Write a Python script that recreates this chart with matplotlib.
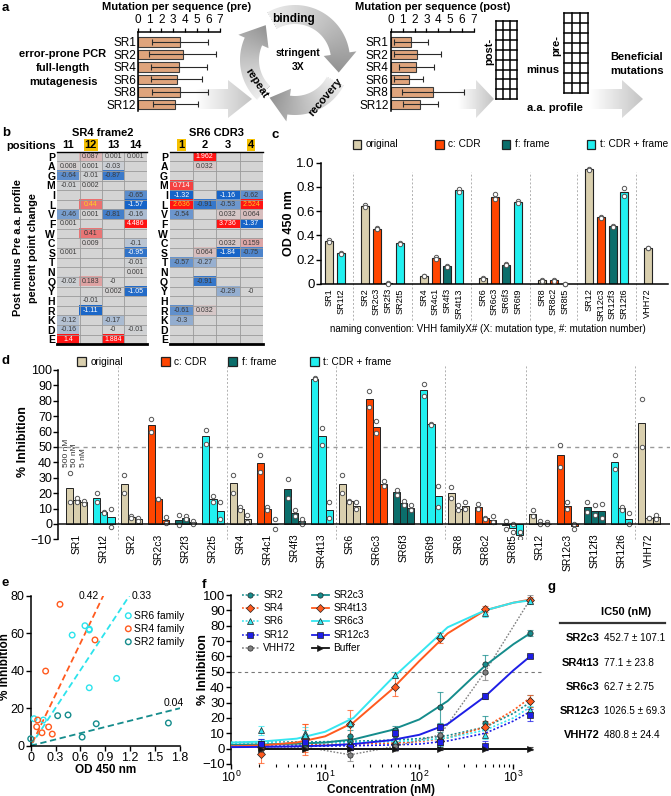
import re
import numpy as np
import matplotlib
matplotlib.use('Agg')
import matplotlib.pyplot as plt
from matplotlib.patches import Rectangle, Polygon
from matplotlib.colors import LinearSegmentedColormap, to_rgba

plt.rcParams['font.family'] = ['Liberation Sans', 'DejaVu Sans']
plt.rcParams['axes.linewidth'] = 1.1
plt.rcParams['xtick.direction'] = 'out'
plt.rcParams['ytick.direction'] = 'out'

# ======================= DATA =======================
# panel a
a_clones = ['SR1', 'SR2', 'SR4', 'SR6', 'SR8', 'SR12']
a_pre_mean = [3.6, 3.8, 3.5, 3.3, 3.6, 3.2]
a_pre_sd = [2.4, 2.85, 2.4, 2.2, 2.4, 1.95]
a_post_mean = [1.7, 2.25, 2.15, 1.5, 3.55, 2.5]
a_post_sd = [1.4, 1.95, 1.45, 1.2, 2.6, 1.5]

# panel b
aa_rows = list('PAGMILVFWCSTNQYHRKDE')
b_sr4_positions = ['11', '12', '13', '14']
b_sr4_values = [
    ['', '0.087', '0.001', '0.001'],
    ['0.008', '0.001', '-0.03', ''],
    ['-0.64', '-0.01', '-0.87', ''],
    ['-0.01', '0.002', '', ''],
    ['', '', '', '-0.65'],
    ['', '0.44', '', '-1.57'],
    ['-0.46', '0.001', '-0.81', '-0.16'],
    ['0.001', '', '', '4.486'],
    ['', '0.41', '', ''],
    ['', '0.009', '', '-0.1'],
    ['0.001', '', '', '-0.95'],
    ['', '', '', '-0.01'],
    ['', '', '', '0.001'],
    ['-0.02', '0.183', '-0', ''],
    ['', '', '0.002', '-1.05'],
    ['', '-0.01', '', ''],
    ['', '-1.11', '', ''],
    ['-0.12', '', '-0.17', ''],
    ['-0.16', '', '-0', '-0.01'],
    ['1.4', '', '1.884', ''],
]
b_sr4_highlight = ['12']
b_sr4_key_cells = [('L', '12')]

b_sr6_positions = ['1', '2', '3', '4']
b_sr6_values = [
    ['', '1.962', '', ''],
    ['', '0.032', '', ''],
    ['', '', '', ''],
    ['0.714', '', '', ''],
    ['-1.32', '', '-1.16', '-0.62'],
    ['2.636', '-0.91', '-0.53', '2.524'],
    ['-0.54', '', '0.032', '0.064'],
    ['', '', '3.736', '-1.37'],
    ['', '', '', ''],
    ['', '', '0.032', '0.159'],
    ['', '0.064', '-1.84', '-0.75'],
    ['-0.57', '-0.27', '', ''],
    ['', '', '', ''],
    ['', '-0.91', '', ''],
    ['', '', '-0.29', '-0'],
    ['', '', '', ''],
    ['-0.61', '0.032', '', ''],
    ['-0.3', '', '', ''],
    ['', '', '', ''],
    ['', '', '', ''],
]
b_sr6_highlight = ['1', '4']
b_sr6_key_cells = [('L', '1'), ('L', '4')]

# panels c, d
vhh_groups = [['SR1', 'SR1t2'], ['SR2', 'SR2c3', 'SR2f3', 'SR2t5'],
              ['SR4', 'SR4c1', 'SR4f3', 'SR4t13'], ['SR6', 'SR6c3', 'SR6f3', 'SR6t9'],
              ['SR8', 'SR8c2', 'SR8t5'], ['SR12', 'SR12c3', 'SR12f3', 'SR12t6'], ['VHH72']]
type_names = {'o': 'original', 'c': 'c: CDR', 'f': 'f: frame', 't': 't: CDR + frame'}

c_od_mean = [0.354, 0.253, 0.643, 0.456, 0.005, 0.335, 0.067, 0.214, 0.148, 0.772, 0.047,
             0.720, 0.159, 0.676, 0.030, 0.030, 0.0, 0.945, 0.550, 0.475, 0.758, 0.297]
c_od_rep1 = [0.362, 0.256, 0.650, 0.462, 0.008, 0.338, 0.070, 0.220, 0.152, 0.782, 0.050,
             0.745, 0.162, 0.682, 0.032, 0.034, 0.0, 0.952, 0.556, 0.480, 0.792, 0.300]
c_od_rep2 = [0.346, 0.250, 0.636, 0.450, 0.002, 0.332, 0.064, 0.208, 0.144, 0.762, 0.044,
             0.698, 0.156, 0.670, 0.028, 0.026, 0.0, 0.938, 0.544, 0.470, 0.725, 0.294]

d_concs = ['500 nM', '50 nM', '5 nM']
d_inh_500 = [23.6, 17.0, 26.0, 64.0, 2.6, 57.0, 26.4, 39.8, 22.9, 94.2, 25.8,
             81.2, 20.6, 86.8, 20.3, 11.3, -0.9, 6.7, 44.6, 11.3, 40.3, 65.8]
d_inh_50 = [15.4, 8.0, 4.8, 16.5, 3.7, 16.2, 10.0, 9.7, 6.9, 57.1, 14.7,
            62.8, 13.9, 64.7, 10.0, 3.7, -2.8, 0.9, 11.9, 8.7, 10.4, 3.9]
d_inh_5 = [14.1, 4.3, 3.0, 2.8, 1.1, 8.4, 3.5, 0.0, 2.0, 9.1, 11.7,
           26.2, 10.2, 18.0, 11.5, 2.8, -7.4, 0.0, -1.1, 8.2, 3.5, 4.8]
d_rep_500 = [(33, 14), (20, 14), (32, 20), (68, 60), (6, -1), (61, 52), (32, 20), (45, 34),
             (29, 17), (95, 94), (32, 20), (86.6, 75.8), (22, 19), (91, 83), (24, 17), (13, 10),
             (2, -3), (9, 5), (51, 37), (14, 8), (45, 35.7), (81.4, 50)]
d_rep_50 = [(17, 14), (8, 7), (5, 4), (16.5, 16.5), (5, 3), (18, 14), (11, 9), (11, 9),
            (9, 5), (62, 51), (15, 14), (67, 58.9), (15, 12), (65, 64), (12, 9), (4, 3),
            (0, -5), (2, 0), (14, 10), (12, 6), (11, 9), (4, 4)]
d_rep_5 = [(15, 13), (10, -2), (4, 2), (4.5, 0.5), (2, 0), (14, 3), (6, 1), (3, -3),
           (3, 0), (14, 4), (14, 10), (28, 24.7), (12, 9), (24.7, 11.3), (14, 10), (5, 1),
           (-5, -9), (1, 0), (0, -3), (13, 4), (7, 0), (6, 3)]

# panel e
e_families = ['SR6 family', 'SR4 family', 'SR2 family']
e_od = [[0.04, 0.152, 0.50, 0.654, 0.706, 0.706, 0.706, 1.036],
        [0.353, 0.18, 0.775, 0.084, 0.072, 0.136, 0.216, 0.26],
        [0.0, 0.325, 0.45, 0.62, 0.79, 1.66]]
e_inh = [[14.4, 13.7, 59.0, 64.0, 62.2, 61.7, 30.9, 35.9],
         [75.4, 39.8, 56.4, 13.7, 10.1, 6.9, 10.0, 6.2],
         [3.7, 16.0, 16.4, 4.6, 11.7, 12.1]]
e_fit_x = [[0.0, 1.19], [0.02, 0.875], [0.0, 1.8]]
e_fit_y = [[0.0, 80.0], [1.5, 80.0], [0.0, 20.0]]
e_fit_r2 = ['0.33', '0.42', '0.04']

# panel f
f_conc = [2.06, 6.17, 18.5, 55.6, 166.7, 500, 1500]
f_series = ['SR2', 'SR4', 'SR6', 'SR12', 'VHH72', 'SR2c3', 'SR4t13', 'SR6c3', 'SR12c3', 'Buffer']
f_mean = {
    'SR2': [3, 4, 5, 9, 8, 17, 31],
    'SR4': [-3.5, 7, 2, 3, 5, 14, 31],
    'SR6': [12, 10, 3, 4, 4, 9, 25],
    'SR12': [3, 3, 1, 1, 4, 2, 22],
    'VHH72': [0, 1, -4, 1.5, 9, 50, 97],
    'SR2c3': [2, 3, 8, 12, 27, 55, 75],
    'SR4t13': [1, 6, 16, 40, 72, 91, 97],
    'SR6c3': [3, 9, 17, 48, 74, 88, 96],
    'SR12c3': [3, 4, 1, 10, 14, 34, 60],
    'Buffer': [0, 0, 0, 0, 0, 0, 0],
}
f_err = {
    'SR2': [3, 3, 3, 4, 3, 4, 4],
    'SR4': [6, 9, 3, 3, 3, 4, 4],
    'SR6': [3, 4, 2, 2, 2, 3, 3],
    'SR12': [3, 3, 2, 2, 4, 3, 4],
    'VHH72': [2, 2, 4, 3, 3, 5, 3],
    'SR2c3': [2, 3, 4, 3, 10, 6, 2],
    'SR4t13': [2, 10, 9, 6, 3, 2, 2],
    'SR6c3': [2, 3, 3, 2, 2, 2, 2],
    'SR12c3': [2, 3, 2, 3, 2, 2, 1],
    'Buffer': [1, 1, 1, 1, 1, 1, 1],
}
f_curve_x = [1, 2, 5, 10, 20, 50, 100, 200, 500, 1000, 1500]
f_curve_y = {
    'SR2': [4.0, 4.1, 4.3, 4.5, 4.8, 5.5, 6.5, 8.5, 14, 23, 30],
    'SR4': [2.5, 2.6, 2.7, 2.8, 3.0, 3.6, 4.6, 7.0, 14, 25, 33],
    'SR6': [3.7, 3.7, 3.8, 3.9, 4.1, 4.6, 5.3, 7.0, 12, 20, 27],
    'SR12': [1.5, 1.5, 1.6, 1.7, 1.9, 2.4, 3.0, 5.0, 10, 18, 24],
    'SR2c3': [2.5, 2.7, 3.2, 4.0, 6.0, 12, 19, 31, 54, 68, 75],
    'SR4t13': [1.5, 2.0, 4.0, 8.0, 17, 38, 57, 75, 90, 95, 97],
    'SR6c3': [4.0, 4.5, 6.5, 11, 20, 45, 62, 79, 90, 95, 96.5],
    'SR12c3': [1.0, 1.1, 1.5, 2.0, 3.0, 5.5, 9.0, 16, 34, 51, 60],
}

# panel g
g_names = ['SR2c3', 'SR4t13', 'SR6c3', 'SR12c3', 'VHH72']
g_ic50 = [452.7, 77.1, 62.7, 1026.5, 480.8]
g_ic50_sd = [107.1, 23.8, 2.75, 69.3, 24.4]

# ======================= STYLE =======================
W, H = 671, 796
A_BAR = '#dfa47c'
TYPE_COL = {'o': '#d9cfae', 'c': '#ff4500', 'f': '#0b6e6b', 't': '#22f0f0'}
EMPTY = '#d4d4d4'
GRIDC = '#9a9a9a'
F_COL = {'SR2': '#158c8c', 'SR4': '#ff5a1e', 'SR6': '#35e6f0', 'SR12': '#1e1ee6',
         'VHH72': '#808080', 'Buffer': '#111111'}
F_MARK = {'SR2': 'o', 'SR4': 'D', 'SR6': '^', 'SR12': 's', 'VHH72': 'o', 'Buffer': '>'}

fig = plt.figure(figsize=(W / 100, H / 100), dpi=100)


def ax_px(x0, y0, x1, y1):
    return fig.add_axes([x0 / W, 1 - y1 / H, (x1 - x0) / W, (y1 - y0) / H])


def base_of(name):
    m = re.match(r'^(SR\d+)', name)
    return m.group(1) if m else name


def vtype(name):
    m = re.match(r'^SR\d+([cft])\d+$', name)
    return m.group(1) if m else 'o'


def blend(c1, c2, t):
    a, b = to_rgba(c1), to_rgba(c2)
    return tuple((1 - t) * u + t * v for u, v in zip(a, b))


# ---------------- background overlay ----------------
bg = ax_px(0, 0, W, H)
bg.set_axis_off()

arrow_cmap = LinearSegmentedColormap.from_list('ar', ['#ffffff', '#c4c4c4'])
for (x0, hx, tip) in [(196, 228, 252), (458, 476, 494), (590, 622, 643)]:
    pts = [(x0, 89), (hx, 89), (hx, 80), (tip, 99), (hx, 118), (hx, 109), (x0, 109)]
    poly = Polygon(pts, closed=True, facecolor='none', edgecolor='none')
    bg.add_patch(poly)
    grad = np.linspace(0, 1, 64)[None, :]
    im = bg.imshow(grad, extent=(x0, tip, 118, 80), cmap=arrow_cmap, aspect='auto',
                   interpolation='bilinear', vmin=0, vmax=1)
    im.set_clip_path(poly)

cx, cy, r_in, r_out = 295, 60, 36, 55
ring_cmap = LinearSegmentedColormap.from_list('ring', ['#ededed', '#c2c2c2', '#929292'])


def seg_poly(a0, a1, ah, ext=7):
    th = np.radians(np.linspace(a0, a1, 50))
    outer = [(cx + r_out * np.cos(t), cy - r_out * np.sin(t)) for t in th]
    inner = [(cx + r_in * np.cos(t), cy - r_in * np.sin(t)) for t in th[::-1]]
    tb, tt, rm = np.radians(a1), np.radians(ah), (r_in + r_out) / 2
    head = [(cx + (r_out + ext) * np.cos(tb), cy - (r_out + ext) * np.sin(tb)),
            (cx + rm * np.cos(tt), cy - rm * np.sin(tt)),
            (cx + (r_in - ext) * np.cos(tb), cy - (r_in - ext) * np.sin(tb))]
    return outer + head + inner


gx = np.arange(cx - 70, cx + 70) + 0.5
gy = np.arange(cy - 70, cy + 70) + 0.5
GX, GY = np.meshgrid(gx, gy)
ANG = np.degrees(np.arctan2(-(GY - cy), GX - cx))
for (a0, a1, ah) in [(120, 8, -16), (-28, -98, -124), (226, 156, 130)]:
    pts = seg_poly(a0, a1, ah)
    poly = Polygon(pts, closed=True, facecolor='none', edgecolor='none')
    bg.add_patch(poly)
    d = (a0 - ANG) % 360
    t = np.clip(d / (a0 - ah), 0, 1)
    im = bg.imshow(t, extent=(cx - 70, cx + 70, cy + 70, cy - 70), cmap=ring_cmap,
                   aspect='auto', interpolation='bilinear', vmin=0, vmax=1, origin='upper')
    im.set_clip_path(poly)
bg.set_xlim(0, W)
bg.set_ylim(H, 0)

# ======================= PANEL A =======================


def mutation_bars(x0, x1, means, sds):
    ax = ax_px(x0, 32, x1, 110.5)
    y = np.arange(len(a_clones))
    ax.barh(y, means, height=0.76, color=A_BAR, edgecolor='#3c3c3c', linewidth=0.8, zorder=2)
    ax.errorbar(means, y, xerr=sds, fmt='none', ecolor='#2a2a2a', elinewidth=0.8,
                capsize=2.2, capthick=0.8, zorder=3)
    ax.set_xlim(0, 7)
    ax.set_ylim(5.5, -0.8)
    ax.xaxis.tick_top()
    ax.set_xticks(range(8))
    ax.set_yticks(y, a_clones)
    ax.spines[['right', 'bottom']].set_visible(False)
    ax.tick_params(axis='x', length=3, width=0.9, pad=1, labelsize=8.5)
    ax.tick_params(axis='y', length=0, pad=1.5, labelsize=8.5)
    ax.patch.set_alpha(0)
    return ax


mutation_bars(138, 220, a_pre_mean, a_pre_sd)
mutation_bars(390.7, 474, a_post_mean, a_post_sd)

# ======================= PANEL B =======================


def cell_rgba(s):
    if s == '':
        return to_rgba(EMPTY)
    v = float(s)
    if v >= 0:
        return blend(EMPTY, '#ff1414', min(v / 1.0, 1) ** 0.8)
    return blend(EMPTY, '#1664c8', min(-v / 1.15, 1) ** 0.8)


def aa_heatmap(x0, x1, positions, values, highlight, key_cells):
    ax = ax_px(x0, 151.7, x1, 344.3)
    nr, nc = len(aa_rows), len(positions)
    img = np.array([[cell_rgba(values[i][j]) for j in range(nc)] for i in range(nr)])
    ax.imshow(img, aspect='auto', interpolation='nearest', extent=(-0.5, nc - 0.5, nr - 0.5, -0.5))
    for k in range(1, nr):
        ax.axhline(k - 0.5, color=GRIDC, lw=0.6)
    for k in range(1, nc):
        ax.axvline(k - 0.5, color=GRIDC, lw=0.6)
    keys = {(aa_rows.index(r), positions.index(p)) for r, p in key_cells}
    for i in range(nr):
        for j in range(nc):
            s = values[i][j]
            if s == '':
                continue
            v = float(s)
            if (i, j) in keys:
                col = '#ffd21f'
            elif v >= 0.7 or v <= -0.93:
                col = 'white'
            else:
                col = '#3a3a3a'
            ax.text(j, i, s, ha='center', va='center', fontsize=5, color=col)
    ax.set_xlim(-0.5, nc - 0.5)
    ax.set_ylim(nr - 0.5, -0.5)
    ax.xaxis.tick_top()
    ax.set_xticks(range(nc), positions)
    ax.set_yticks(range(nr), aa_rows)
    ax.tick_params(length=0)
    ax.tick_params(axis='x', pad=1.2)
    ax.tick_params(axis='y', pad=1.5)
    for lab in ax.get_xticklabels():
        lab.set_fontweight('bold')
        lab.set_fontsize(8)
        if lab.get_text() in highlight:
            lab.set_bbox(dict(facecolor='#f5c000', edgecolor='none', pad=0.8))
    for lab in ax.get_yticklabels():
        lab.set_fontweight('bold')
        lab.set_fontsize(7.5)
    ax.spines[['left', 'right']].set_visible(False)
    ax.spines['top'].set_linewidth(1.0)
    ax.spines['bottom'].set_linewidth(2.0)
    return ax


aa_heatmap(57.3, 146.7, b_sr4_positions, b_sr4_values, b_sr4_highlight, b_sr4_key_cells)
aa_heatmap(170, 262.7, b_sr6_positions, b_sr6_values, b_sr6_highlight, b_sr6_key_cells)

# ======================= PANEL C =======================
names = [n for g in vhh_groups for n in g]
types = [vtype(n) for n in names]
cols = [TYPE_COL[t] for t in types]

c_slots, c_seps, s = [], [], 0
for gi, g in enumerate(vhh_groups):
    if gi > 0:
        c_seps.append(s)
        s += 1
    for n in g:
        c_slots.append(s)
        s += 1

axc = ax_px(320.7, 162.7, 668, 284)
axc.patch.set_alpha(0)
for sp in c_seps:
    axc.plot([sp, sp], [-0.3, 0.92], ls=(0, (2, 2)), color='#b0b0b0', lw=0.7, clip_on=False, zorder=1)
axc.bar(c_slots, c_od_mean, width=0.68, color=cols, edgecolor='#222222', linewidth=0.8, zorder=2)
axc.scatter(c_slots + c_slots, c_od_rep1 + c_od_rep2, s=10, facecolor='white', edgecolor='#555555',
            linewidth=0.7, zorder=3, clip_on=False)
axc.set_xlim(-0.73, 28.7)
axc.set_ylim(0, 1.0)
axc.set_yticks([0, 0.2, 0.4, 0.6, 0.8, 1.0], ['0', '0.2', '0.4', '0.6', '0.8', '1.0'])
axc.set_xticks(c_slots, names, rotation=90)
axc.tick_params(axis='x', length=0, pad=3, labelsize=6.6)
axc.tick_params(axis='y', length=3.5, width=1, pad=1, labelsize=9.5)
axc.spines[['top', 'right']].set_visible(False)

# ======================= PANEL D =======================
d_x = np.arange(len(names))
axd = ax_px(58.3, 370, 670, 539.3)
axd.patch.set_alpha(0)
bounds = np.cumsum([len(g) for g in vhh_groups])[:-1] - 0.5
for sp in bounds:
    axd.plot([sp, sp], [-10, 103], ls=(0, (2, 2)), color='#b0b0b0', lw=0.7, clip_on=False, zorder=1)
axd.axhline(50, color='#9a9a9a', ls=(0, (3, 3)), lw=1.0, zorder=1)
bw = 0.26
for k, (vals, reps) in enumerate([(d_inh_500, d_rep_500), (d_inh_50, d_rep_50), (d_inh_5, d_rep_5)]):
    xs = d_x + (k - 1) * bw
    axd.bar(xs, vals, width=bw, color=cols, edgecolor='#222222', linewidth=0.7, zorder=2)
    rx = np.concatenate([xs, xs])
    ry = [r[0] for r in reps] + [r[1] for r in reps]
    axd.scatter(rx, ry, s=10, facecolor='white', edgecolor='#555555', linewidth=0.7, zorder=3)
axd.axhline(0, color='#111111', lw=1.1, zorder=4)
axd.set_xlim(-0.675, 21.77)
axd.set_ylim(-10, 100)
axd.set_yticks(range(-10, 101, 10))
axd.set_xticks(d_x, names, rotation=90)
axd.tick_params(axis='x', length=0, pad=-4, labelsize=7.5)
axd.tick_params(axis='y', length=3.5, width=1, pad=1, labelsize=9)
axd.spines[['top', 'right', 'bottom']].set_visible(False)
i0 = names.index('SR1')
for k, lab in enumerate(d_concs):
    axd.text(i0 + (k - 1) * 0.31 - 0.07, 37, lab, rotation=90, ha='center', va='bottom', fontsize=6.0,
             color='#333333')

# ======================= PANEL E =======================
axe = ax_px(30.7, 595.7, 180, 745.7)
axe.patch.set_alpha(0)
e_cols = ['#2ce3ec', '#ff5a1e', '#158c8c']
for k in range(3):
    axe.plot(e_fit_x[k], e_fit_y[k], ls=(0, (3.5, 2)), color=e_cols[k], lw=1.3, zorder=2)
    axe.scatter(e_od[k], e_inh[k], s=16, facecolor='none', edgecolor=e_cols[k], linewidth=1.0,
                zorder=3, clip_on=False)
axe.set_xlim(0, 1.8)
axe.set_ylim(0, 80)
axe.set_xticks([0, 0.3, 0.6, 0.9, 1.2, 1.5, 1.8], ['0', '0.3', '0.6', '0.9', '1.2', '1.5', '1.8'])
axe.set_yticks([0, 20, 40, 60, 80])
axe.tick_params(length=3.5, width=1, pad=1, labelsize=9)
axe.spines[['top', 'right']].set_visible(False)

# ======================= PANEL F =======================
axf = ax_px(231, 595, 541.7, 764)
axf.patch.set_alpha(0)
axf.set_xscale('log')
axf.axhline(50, color='#777777', ls=(0, (3, 3)), lw=0.8, zorder=1)
for name in f_series:
    fam = base_of(name)
    col = F_COL[fam]
    variant = name != fam
    axf.errorbar(f_conc, f_mean[name], yerr=f_err[name], fmt='none', ecolor=col, elinewidth=0.8,
                 capsize=2, capthick=0.8, alpha=0.75, zorder=2)
    if name in f_curve_y:
        axf.plot(f_curve_x, f_curve_y[name], color=col, lw=1.4 if variant else 1.2,
                 ls='-' if variant else (0, (1.2, 1.2)), zorder=3)
    elif name == 'VHH72':
        axf.plot(f_conc, f_mean[name], color=col, lw=1.0, ls=(0, (1.2, 1.2)), zorder=3)
    else:
        axf.plot(f_conc, f_mean[name], color=col, lw=1.4, zorder=3)
    axf.plot(f_conc, f_mean[name], ls='none', marker=F_MARK[fam], ms=3.8, mfc=col, mec='#222222',
             mew=0.5, zorder=4)
axf.set_xlim(1, 10 ** 3.3)
axf.set_ylim(-10, 100)
axf.set_yticks(range(-10, 101, 10))
axf.tick_params(axis='y', length=3.5, width=1, pad=1, labelsize=9.5)
axf.tick_params(axis='x', which='major', length=3.5, width=1, pad=1, labelsize=9)
axf.tick_params(axis='x', which='minor', length=2, width=0.8)
axf.spines[['top', 'right', 'bottom']].set_visible(False)

# ======================= FOREGROUND TEXT =======================
fg = ax_px(0, 0, W, H)
fg.set_axis_off()
fg.set_xlim(0, W)
fg.set_ylim(H, 0)
B = dict(fontweight='bold')

for lab, x, y in [('a', 2, 8), ('b', 2, 133), ('c', 272, 135), ('d', 2, 361), ('e', 2, 583),
                  ('f', 202, 585), ('g', 547, 587)]:
    fg.text(x, y, lab, fontsize=9.5, ha='left', va='center', **B)

# panel a texts
fg.text(177, 7, 'Mutation per sequence (pre)', fontsize=8, ha='center', va='center', **B)
fg.text(433, 7, 'Mutation per sequence (post)', fontsize=8, ha='center', va='center', **B)
for yy, t in zip([54, 68, 82], ['error-prone PCR', 'full-length', 'mutagenesis']):
    fg.text(63, yy, t, fontsize=8, ha='center', va='center', **B)
fg.text(294, 19, 'binding', fontsize=8.5, ha='center', va='center', **B)
fg.text(298, 53, 'stringent', fontsize=7.5, ha='center', va='center', **B)
fg.text(298, 67, '3X', fontsize=7.5, ha='center', va='center', **B)
fg.text(257, 83, 'repeat', fontsize=8, ha='center', va='center', rotation=-57, **B)
fg.text(325, 97, 'recovery', fontsize=8, ha='center', va='center', rotation=50, **B)
for (gx0, gx1, gy0, gy1) in [(495.7, 516.7, 20.7, 99), (564.3, 588.3, 13.3, 92.7)]:
    for k in range(9):
        yy = gy0 + k * (gy1 - gy0) / 8
        fg.plot([gx0, gx1], [yy, yy], color='black', lw=1.1)
    for k in range(4):
        xx = gx0 + k * (gx1 - gx0) / 3
        fg.plot([xx, xx], [gy0, gy1], color='black', lw=1.1)
fg.text(489, 51, 'post-', fontsize=8, rotation=90, ha='center', va='center', **B)
fg.text(556, 46, 'pre-', fontsize=8, rotation=90, ha='center', va='center', **B)
fg.text(543, 70, 'minus', fontsize=8, ha='center', va='center', **B)
fg.text(555, 108, 'a.a. profile', fontsize=8, ha='center', va='center', **B)
fg.text(637, 57, 'Beneficial', fontsize=8, ha='center', va='center', **B)
fg.text(637, 71, 'mutations', fontsize=8, ha='center', va='center', **B)

# panel b texts
fg.text(103, 132.5, 'SR4 frame2', fontsize=8, ha='center', va='center', **B)
fg.text(216, 132.5, 'SR6 CDR3', fontsize=8, ha='center', va='center', **B)
fg.text(56, 146, 'positions', fontsize=8, ha='right', va='center', **B)
fg.text(18, 248, 'Post minus Pre a.a. profile', fontsize=7.8, rotation=90, ha='center', va='center', **B)
fg.text(33, 248, 'percent point change', fontsize=7.8, rotation=90, ha='center', va='center', **B)

# panel c/d legends
for (lx, ly), t in zip([(356.7, 144.3), (439.5, 144.3), (506, 144.3), (590.7, 144.3)], ['o', 'c', 'f', 't']):
    fg.add_patch(Rectangle((lx - 4.2, ly - 4.2), 8.4, 8.4, facecolor=TYPE_COL[t], edgecolor='#222222', lw=0.9))
    fg.text(lx + 9, ly, type_names[t], fontsize=7.3, ha='left', va='center')
for (lx, ly), t in zip([(81.7, 361.8), (165, 361.8), (232.7, 361.8), (314.2, 361.8)], ['o', 'c', 'f', 't']):
    fg.add_patch(Rectangle((lx - 4.5, ly - 4.5), 9, 9, facecolor=TYPE_COL[t], edgecolor='#222222', lw=0.9))
    fg.text(lx + 9, ly, type_names[t], fontsize=7.3, ha='left', va='center')
fg.text(289, 223, 'OD 450 nm', fontsize=9, rotation=90, ha='center', va='center', **B)
fg.text(488, 329, 'naming convention: VHH familyX# (X: mutation type, #: mutation number)', fontsize=7,
        ha='center', va='center')
fg.text(23, 442, '% Inhibition', fontsize=9, rotation=90, ha='center', va='center', **B)

# panel e texts
fg.text(5.5, 667, '% Inhibition', fontsize=8.5, rotation=90, ha='center', va='center', **B)
fg.text(106, 770, 'OD 450 nm', fontsize=8.5, ha='center', va='center', **B)
for (lx, ly), k in zip([(128.3, 615.7), (128.3, 628.8), (128.3, 641.8)], range(3)):
    fg.scatter([lx], [ly], s=16, facecolor='none', edgecolor=e_cols[k], linewidth=1.0)
    fg.text(lx + 5.5, ly, e_families[k], fontsize=7.5, ha='left', va='center')
fg.text(99, 596, e_fit_r2[1], fontsize=7.5, ha='right', va='center')
fg.text(132, 596, e_fit_r2[0], fontsize=7.5, ha='left', va='center')
fg.text(163.5, 703, e_fit_r2[2], fontsize=7.5, ha='left', va='center')

# panel f texts
fg.text(203, 670, '% Inhibition', fontsize=9, rotation=90, ha='center', va='center', **B)
fg.text(381, 790.5, 'Concentration (nM)', fontsize=8.5, ha='center', va='center', **B)
leg_rows = [595, 608.2, 621.4, 634.6, 647.8]
for idx, name in enumerate(f_series):
    col_i, row_i = divmod(idx, 5)
    x0 = 241.7 if col_i == 0 else 311.7
    yy = leg_rows[row_i]
    fam = base_of(name)
    col = F_COL[fam]
    solid = (name != fam) or name == 'Buffer'
    fg.plot([x0, x0 + 17], [yy, yy], color=col, lw=1.3 if solid else 1.1,
            ls='-' if solid else (0, (1.2, 1.2)))
    fg.plot([x0 + 8.5], [yy], marker=F_MARK[fam], ms=3.8, mfc=col, mec='#222222', mew=0.5)
    fg.text(x0 + 21.5, yy, name, fontsize=7.3, ha='left', va='center')

# panel g
fg.text(626, 612, 'IC50 (nM)', fontsize=8, ha='center', va='center', **B)
fg.plot([560, 665], [623.3, 623.3], color='#333333', lw=1.6)
for k, (nm, m, sd) in enumerate(zip(g_names, g_ic50, g_ic50_sd)):
    yy = 638.3 + k * 24.2
    fg.text(599.5, yy, nm, fontsize=8, ha='right', va='center', **B)
    fg.text(603.5, yy, f'{m:g} \u00b1 {sd:g}', fontsize=7.2, ha='left', va='center')

fig.savefig('out.png', dpi=100)
